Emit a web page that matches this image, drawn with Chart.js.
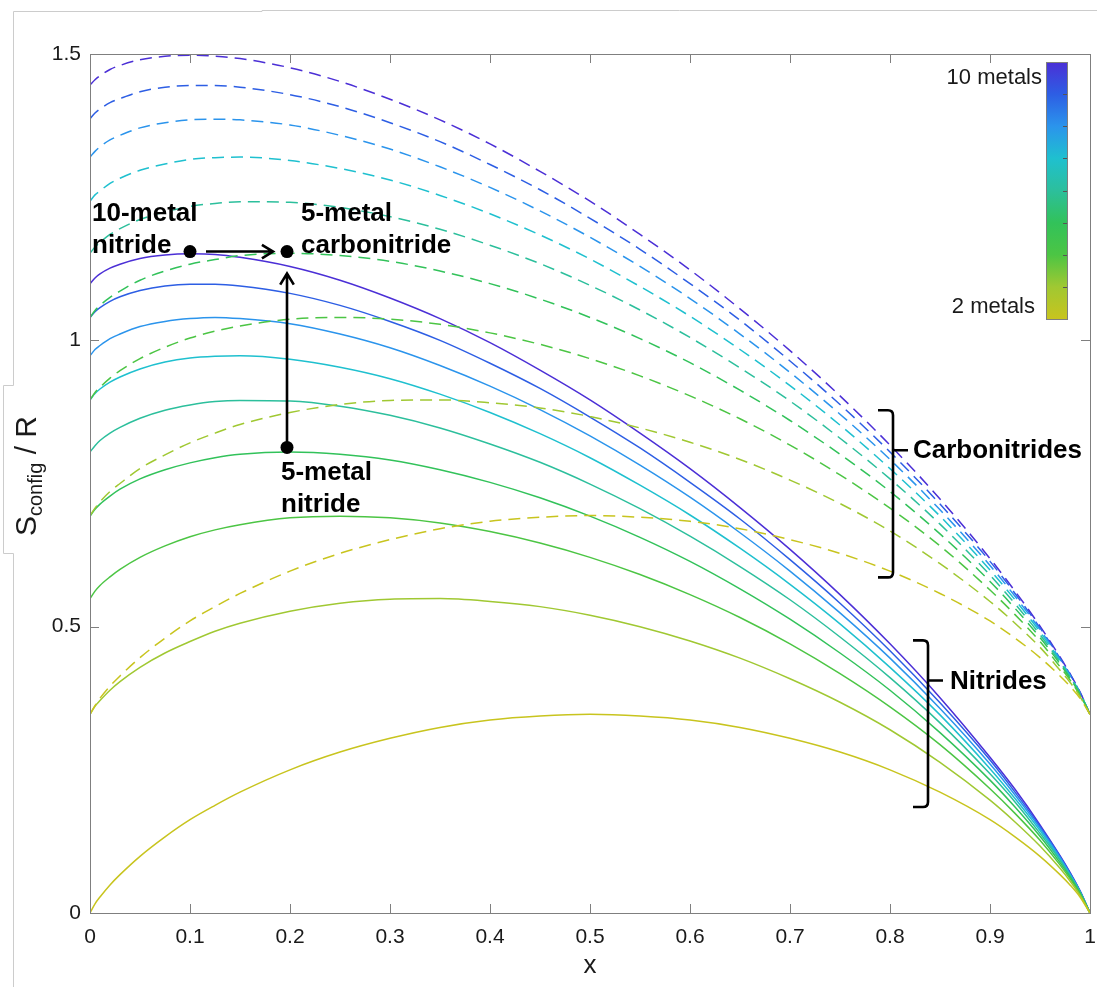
<!DOCTYPE html>
<html>
<head>
<meta charset="utf-8">
<script src="https://cdn.jsdelivr.net/npm/chart.js@4.4.1/dist/chart.umd.min.js"></script>
<style>
  html, body { margin: 0; padding: 0; background: #ffffff; }
  #wrap { width: 1097px; height: 987px; }
</style>
</head>
<body>
<div id="wrap"><canvas id="c" width="1097" height="987" style="width:1097px;height:987px"></canvas></div>
<script>
// ---------------- DATA ----------------
const xValues = [0, 0.005, 0.01, 0.02, 0.03, 0.05, 0.075, 0.1, 0.125, 0.15, 0.2, 0.25, 0.3, 0.35, 0.4, 0.45, 0.5, 0.55, 0.6, 0.65, 0.7, 0.75, 0.8, 0.85, 0.9, 0.925, 0.95, 0.97, 0.98, 0.99, 1];

// Nitrides (solid lines), number of metals 2..10
const nitride2  = [0, 0.016, 0.028, 0.049, 0.067, 0.099, 0.133, 0.163, 0.188, 0.211, 0.250, 0.281, 0.305, 0.324, 0.337, 0.344, 0.347, 0.344, 0.337, 0.324, 0.305, 0.281, 0.250, 0.211, 0.163, 0.133, 0.099, 0.067, 0.049, 0.028, 0];
const nitride3  = [0.347, 0.361, 0.371, 0.389, 0.404, 0.429, 0.454, 0.474, 0.492, 0.506, 0.527, 0.541, 0.548, 0.549, 0.544, 0.535, 0.520, 0.500, 0.475, 0.445, 0.409, 0.368, 0.320, 0.263, 0.197, 0.159, 0.117, 0.078, 0.056, 0.031, 0];
const nitride4  = [0.549, 0.562, 0.572, 0.587, 0.600, 0.621, 0.641, 0.657, 0.669, 0.678, 0.690, 0.693, 0.690, 0.681, 0.666, 0.646, 0.621, 0.591, 0.556, 0.516, 0.470, 0.418, 0.360, 0.294, 0.217, 0.174, 0.127, 0.084, 0.060, 0.033, 0];
const nitride5  = [0.693, 0.705, 0.714, 0.728, 0.740, 0.758, 0.774, 0.786, 0.795, 0.801, 0.805, 0.801, 0.791, 0.774, 0.752, 0.725, 0.693, 0.656, 0.614, 0.566, 0.513, 0.454, 0.389, 0.315, 0.232, 0.185, 0.134, 0.088, 0.063, 0.035, 0];
const nitride6  = [0.805, 0.816, 0.825, 0.838, 0.848, 0.864, 0.878, 0.887, 0.893, 0.895, 0.894, 0.885, 0.869, 0.847, 0.819, 0.787, 0.749, 0.706, 0.658, 0.605, 0.547, 0.482, 0.411, 0.332, 0.243, 0.194, 0.139, 0.092, 0.065, 0.036, 0];
const nitride7  = [0.896, 0.907, 0.915, 0.927, 0.936, 0.950, 0.962, 0.969, 0.972, 0.973, 0.967, 0.953, 0.933, 0.906, 0.874, 0.837, 0.795, 0.747, 0.695, 0.637, 0.574, 0.505, 0.429, 0.346, 0.252, 0.200, 0.144, 0.094, 0.067, 0.037, 0];
const nitride8  = [0.973, 0.984, 0.991, 1.003, 1.011, 1.024, 1.033, 1.038, 1.040, 1.038, 1.029, 1.011, 0.987, 0.956, 0.920, 0.879, 0.833, 0.782, 0.726, 0.664, 0.597, 0.524, 0.445, 0.357, 0.260, 0.206, 0.148, 0.097, 0.068, 0.038, 0];
const nitride9  = [1.040, 1.050, 1.057, 1.068, 1.076, 1.087, 1.095, 1.098, 1.098, 1.095, 1.082, 1.061, 1.033, 1.000, 0.960, 0.916, 0.866, 0.812, 0.752, 0.688, 0.617, 0.541, 0.458, 0.367, 0.267, 0.211, 0.151, 0.099, 0.070, 0.038, 0];
const nitride10 = [1.099, 1.109, 1.116, 1.126, 1.133, 1.143, 1.149, 1.151, 1.150, 1.145, 1.129, 1.105, 1.074, 1.038, 0.996, 0.948, 0.896, 0.838, 0.776, 0.708, 0.635, 0.556, 0.470, 0.376, 0.272, 0.216, 0.154, 0.100, 0.071, 0.039, 0];

// Carbonitrides (dashed lines), number of metals 2..10
const carbonitride2  = [0.347, 0.362, 0.375, 0.396, 0.414, 0.446, 0.480, 0.510, 0.535, 0.558, 0.597, 0.628, 0.652, 0.671, 0.684, 0.691, 0.694, 0.691, 0.684, 0.671, 0.652, 0.628, 0.597, 0.558, 0.510, 0.480, 0.446, 0.414, 0.396, 0.375, 0.347];
const carbonitride3  = [0.694, 0.707, 0.718, 0.736, 0.750, 0.776, 0.800, 0.821, 0.838, 0.853, 0.874, 0.888, 0.895, 0.896, 0.891, 0.882, 0.867, 0.847, 0.822, 0.792, 0.756, 0.715, 0.667, 0.610, 0.544, 0.506, 0.464, 0.424, 0.403, 0.378, 0.347];
const carbonitride4  = [0.896, 0.909, 0.918, 0.934, 0.947, 0.968, 0.988, 1.004, 1.016, 1.025, 1.037, 1.040, 1.037, 1.028, 1.013, 0.993, 0.968, 0.938, 0.903, 0.863, 0.817, 0.765, 0.707, 0.641, 0.564, 0.521, 0.474, 0.430, 0.407, 0.380, 0.347];
const carbonitride5  = [1.040, 1.052, 1.061, 1.075, 1.086, 1.105, 1.121, 1.133, 1.141, 1.148, 1.152, 1.148, 1.138, 1.121, 1.099, 1.072, 1.040, 1.003, 0.961, 0.913, 0.860, 0.801, 0.736, 0.662, 0.579, 0.532, 0.481, 0.435, 0.410, 0.382, 0.347];
const carbonitride6  = [1.152, 1.163, 1.171, 1.185, 1.195, 1.211, 1.224, 1.234, 1.239, 1.242, 1.241, 1.232, 1.216, 1.194, 1.166, 1.134, 1.096, 1.053, 1.005, 0.952, 0.894, 0.829, 0.758, 0.679, 0.590, 0.540, 0.486, 0.438, 0.412, 0.383, 0.347];
const carbonitride7  = [1.243, 1.254, 1.261, 1.274, 1.283, 1.297, 1.308, 1.316, 1.319, 1.320, 1.314, 1.300, 1.280, 1.253, 1.221, 1.184, 1.142, 1.094, 1.042, 0.984, 0.921, 0.852, 0.776, 0.693, 0.599, 0.547, 0.491, 0.441, 0.414, 0.384, 0.347];
const carbonitride8  = [1.320, 1.330, 1.338, 1.350, 1.358, 1.371, 1.380, 1.385, 1.386, 1.385, 1.376, 1.358, 1.334, 1.303, 1.267, 1.226, 1.180, 1.129, 1.073, 1.011, 0.944, 0.871, 0.792, 0.704, 0.607, 0.553, 0.495, 0.443, 0.415, 0.384, 0.347];
const carbonitride9  = [1.387, 1.397, 1.404, 1.415, 1.422, 1.434, 1.442, 1.445, 1.445, 1.442, 1.429, 1.408, 1.380, 1.347, 1.307, 1.263, 1.213, 1.159, 1.099, 1.035, 0.964, 0.888, 0.805, 0.714, 0.614, 0.558, 0.498, 0.445, 0.417, 0.385, 0.347];
const carbonitride10 = [1.446, 1.455, 1.462, 1.473, 1.480, 1.490, 1.496, 1.498, 1.496, 1.492, 1.476, 1.452, 1.421, 1.385, 1.343, 1.295, 1.243, 1.185, 1.123, 1.055, 0.982, 0.903, 0.817, 0.723, 0.619, 0.562, 0.501, 0.447, 0.418, 0.386, 0.347];

const metalCounts = [2, 3, 4, 5, 6, 7, 8, 9, 10];
const nitrideSeries = [nitride2, nitride3, nitride4, nitride5, nitride6, nitride7, nitride8, nitride9, nitride10];
const carbonitrideSeries = [carbonitride2, carbonitride3, carbonitride4, carbonitride5, carbonitride6, carbonitride7, carbonitride8, carbonitride9, carbonitride10];

// Highlighted points: 10-metal nitride, 5-metal carbonitride, 5-metal nitride
const markerX = [0.1, 0.197, 0.197];
const markerY = [1.155, 1.155, 0.813];

const xTickValues = [0, 0.1, 0.2, 0.3, 0.4, 0.5, 0.6, 0.7, 0.8, 0.9, 1];
const xTickLabels = ['0', '0.1', '0.2', '0.3', '0.4', '0.5', '0.6', '0.7', '0.8', '0.9', '1'];
const yTickValues = [0, 0.5, 1, 1.5];
const yTickLabels = ['0', '0.5', '1', '1.5'];

// ---------------- STYLE ----------------
const palette = ['#c8c41e', '#a0c832', '#4cc544', '#32c25a', '#2cbf9c', '#1fc0cf', '#2b94ec', '#2d5ee4', '#4b2fd6'];
const FONT = "'Liberation Sans', Arial, Helvetica, sans-serif";
const TEXT = '#1a1a1a';
const AXIS = '#7f7f7f';

const datasets = [];
datasets.push({
  type: 'scatter',
  data: markerX.map((x, i) => ({ x: x, y: markerY[i] })),
  pointRadius: 6.5, pointBackgroundColor: '#000', pointBorderWidth: 0,
  showLine: false, order: -1
});
metalCounts.forEach((n, i) => {
  datasets.push({
    label: n + '-metal nitride',
    data: xValues.map((x, j) => ({ x: x, y: nitrideSeries[i][j] })),
    borderColor: palette[i], borderWidth: 1.5, pointRadius: 0,
    cubicInterpolationMode: 'monotone', fill: false
  });
  datasets.push({
    label: n + '-metal carbonitride',
    data: xValues.map((x, j) => ({ x: x, y: carbonitrideSeries[i][j] })),
    borderColor: palette[i], borderWidth: 1.5, borderDash: [12, 7], pointRadius: 0,
    cubicInterpolationMode: 'monotone', fill: false
  });
});

function arrow(ctx, x1, y1, x2, y2) {
  const a = Math.atan2(y2 - y1, x2 - x1);
  const L = 13, w = 0.55;
  ctx.beginPath();
  ctx.moveTo(x1, y1); ctx.lineTo(x2, y2);
  ctx.moveTo(x2 - L * Math.cos(a - w), y2 - L * Math.sin(a - w));
  ctx.lineTo(x2, y2);
  ctx.lineTo(x2 - L * Math.cos(a + w), y2 - L * Math.sin(a + w));
  ctx.stroke();
}
function bracket(ctx, x, yTop, yBot, yMid, hook, tick) {
  const r = 5;
  ctx.beginPath();
  ctx.moveTo(x - hook, yTop);
  ctx.lineTo(x - r, yTop);
  ctx.quadraticCurveTo(x, yTop, x, yTop + r);
  ctx.lineTo(x, yBot - r);
  ctx.quadraticCurveTo(x, yBot, x - r, yBot);
  ctx.lineTo(x - hook, yBot);
  ctx.moveTo(x, yMid);
  ctx.lineTo(x + tick, yMid);
  ctx.stroke();
}

const decor = {
  id: 'decor',
  beforeDraw(chart) {
    const ctx = chart.ctx;
    ctx.save();
    ctx.fillStyle = '#fff';
    ctx.fillRect(0, 0, chart.width, chart.height);
    ctx.strokeStyle = '#cccccc';
    ctx.lineWidth = 1;
    ctx.beginPath();
    ctx.moveTo(13.5, 987); ctx.lineTo(13.5, 553.5); ctx.lineTo(3.5, 553.5); ctx.lineTo(3.5, 385.5);
    ctx.lineTo(13.5, 385.5); ctx.lineTo(13.5, 11.5); ctx.lineTo(262, 11.5); ctx.lineTo(262, 10.5); ctx.lineTo(1097, 10.5);
    ctx.stroke();
    ctx.restore();
  },
  afterDraw(chart) {
    const ctx = chart.ctx;
    const xs = chart.scales.x, ys = chart.scales.y;
    const ca = chart.chartArea;
    ctx.save();
    // axes box and inward ticks
    ctx.strokeStyle = AXIS; ctx.lineWidth = 1;
    ctx.strokeRect(Math.round(ca.left) + 0.5, Math.round(ca.top) + 0.5, Math.round(ca.right - ca.left), Math.round(ca.bottom - ca.top));
    ctx.beginPath();
    xTickValues.forEach(v => {
      const px = Math.round(xs.getPixelForValue(v)) + 0.5;
      ctx.moveTo(px, ca.bottom); ctx.lineTo(px, ca.bottom - 9);
      ctx.moveTo(px, ca.top); ctx.lineTo(px, ca.top + 9);
    });
    yTickValues.forEach(v => {
      const py = Math.round(ys.getPixelForValue(v)) + 0.5;
      ctx.moveTo(ca.left, py); ctx.lineTo(ca.left + 9, py);
      ctx.moveTo(ca.right, py); ctx.lineTo(ca.right - 9, py);
    });
    ctx.stroke();

    // axis titles
    ctx.fillStyle = TEXT;
    ctx.textAlign = 'center'; ctx.textBaseline = 'middle';
    ctx.font = '26px ' + FONT;
    ctx.fillText('x', (ca.left + ca.right) / 2, 966);

    ctx.save();
    ctx.translate(36, 476);
    ctx.rotate(-Math.PI / 2);
    const big = '30px ' + FONT, small = '20px ' + FONT;
    ctx.font = big; const wS = ctx.measureText('S').width; const wR = ctx.measureText(' / R').width;
    ctx.font = small; const wSub = ctx.measureText('config').width;
    let x0 = -(wS + wSub + wR) / 2;
    ctx.textAlign = 'left'; ctx.textBaseline = 'alphabetic';
    ctx.font = big; ctx.fillText('S', x0, 0);
    ctx.font = small; ctx.fillText('config', x0 + wS, 6);
    ctx.font = big; ctx.fillText(' / R', x0 + wS + wSub, 0);
    ctx.restore();

    // arrows
    const p0 = { x: xs.getPixelForValue(markerX[0]), y: ys.getPixelForValue(markerY[0]) };
    const p1 = { x: xs.getPixelForValue(markerX[1]), y: ys.getPixelForValue(markerY[1]) };
    const p2 = { x: xs.getPixelForValue(markerX[2]), y: ys.getPixelForValue(markerY[2]) };
    ctx.strokeStyle = '#000'; ctx.lineWidth = 2.6; ctx.lineCap = 'butt'; ctx.lineJoin = 'miter';
    arrow(ctx, p0.x + 16, p0.y, p1.x - 14, p1.y);
    arrow(ctx, p2.x, p2.y, p1.x, p1.y + 22);

    // annotation texts
    ctx.fillStyle = '#000';
    ctx.font = 'bold 26px ' + FONT;
    ctx.textAlign = 'left'; ctx.textBaseline = 'alphabetic';
    ctx.fillText('10-metal', p0.x - 98, p0.y - 31);
    ctx.fillText('nitride', p0.x - 98, p0.y + 1);
    ctx.fillText('5-metal', p1.x + 14, p1.y - 31);
    ctx.fillText('carbonitride', p1.x + 14, p1.y + 1);
    ctx.fillText('5-metal', p2.x - 6, p2.y + 33);
    ctx.fillText('nitride', p2.x - 6, p2.y + 65);

    // brackets
    ctx.lineWidth = 2.6;
    const bx1 = xs.getPixelForValue(0.803);
    bracket(ctx, bx1, ys.getPixelForValue(0.878), ys.getPixelForValue(0.586), ys.getPixelForValue(0.808), 15, 15);
    const bx2 = xs.getPixelForValue(0.838);
    bracket(ctx, bx2, ys.getPixelForValue(0.476), ys.getPixelForValue(0.185), ys.getPixelForValue(0.406), 15, 15);
    ctx.textBaseline = 'middle';
    ctx.fillText('Carbonitrides', bx1 + 20, ys.getPixelForValue(0.808) + 1);
    ctx.fillText('Nitrides', bx2 + 22, ys.getPixelForValue(0.406) + 1);

    // colorbar
    const cbL = 1046, cbT = 62, cbW = 21, cbH = 257;
    const g = ctx.createLinearGradient(0, cbT, 0, cbT + cbH);
    for (let i = 0; i < palette.length; i++) {
      g.addColorStop(i / (palette.length - 1), palette[palette.length - 1 - i]);
    }
    ctx.fillStyle = g;
    ctx.fillRect(cbL, cbT, cbW, cbH);
    ctx.strokeStyle = AXIS; ctx.lineWidth = 1;
    ctx.strokeRect(cbL + 0.5, cbT + 0.5, cbW, cbH);
    ctx.beginPath();
    for (let i = 1; i < 8; i++) {
      const ty = Math.round(cbT + cbH * i / 8) + 0.5;
      ctx.moveTo(cbL + cbW, ty); ctx.lineTo(cbL + cbW - 4, ty);
    }
    ctx.strokeStyle = '#555'; ctx.stroke();
    ctx.fillStyle = TEXT;
    ctx.font = '22px ' + FONT;
    ctx.textAlign = 'right'; ctx.textBaseline = 'middle';
    ctx.fillText('10 metals', 1042, 78);
    ctx.fillText('2 metals', 1035, 307);
    ctx.restore();
  }
};

const tickFont = { family: FONT, size: 21 };
new Chart(document.getElementById('c'), {
  type: 'line',
  data: { datasets: datasets },
  options: {
    responsive: false,
    animation: false,
    devicePixelRatio: 1,
    layout: { padding: { top: 54, right: 7, left: 0, bottom: 0 } },
    plugins: { legend: { display: false }, tooltip: { enabled: false } },
    scales: {
      x: {
        type: 'linear', min: 0, max: 1,
        grid: { display: false, drawTicks: false },
        border: { display: false },
        afterBuildTicks: s => { s.ticks = xTickValues.map(v => ({ value: v })); },
        ticks: { callback: (v, i) => xTickLabels[i], font: tickFont, color: TEXT, padding: 12, maxRotation: 0, autoSkip: false },
        afterFit: s => { s.height = 74; s.paddingLeft = 0; s.paddingRight = 0; }
      },
      y: {
        type: 'linear', min: 0, max: 1.5,
        grid: { display: false, drawTicks: false },
        border: { display: false },
        afterBuildTicks: s => { s.ticks = yTickValues.map(v => ({ value: v })); },
        ticks: { callback: (v, i) => yTickLabels[i], font: tickFont, color: TEXT, padding: 9, autoSkip: false },
        afterFit: s => { s.width = 90; s.paddingTop = 0; s.paddingBottom = 0; }
      }
    }
  },
  plugins: [decor]
});
</script>
</body>
</html>
